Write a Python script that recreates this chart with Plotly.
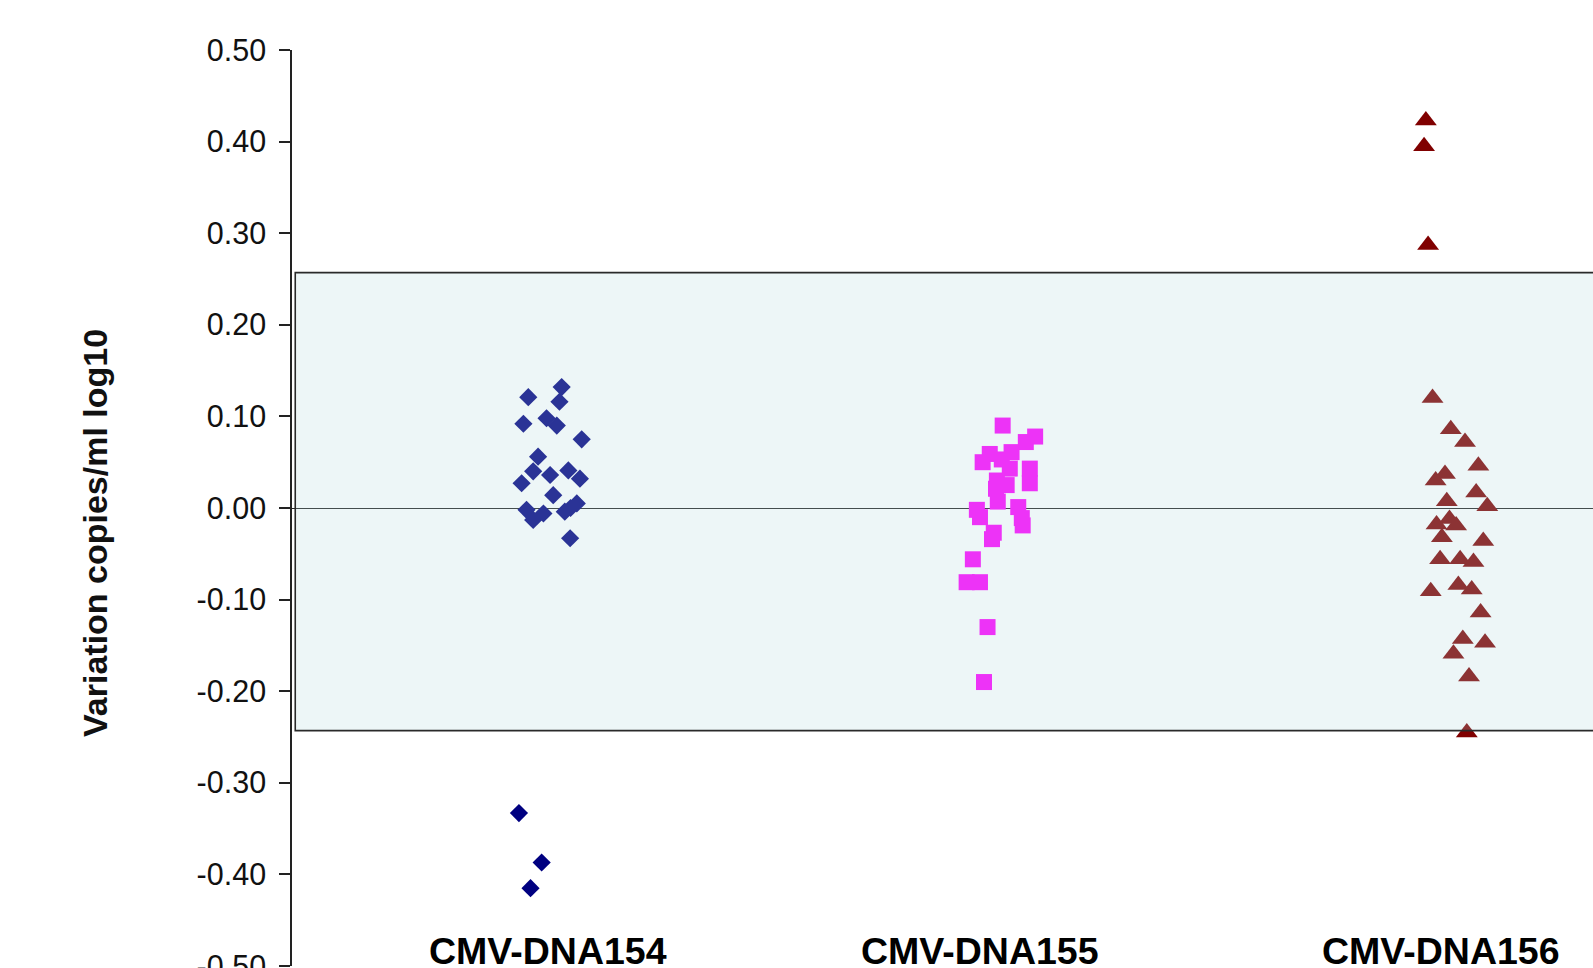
import plotly.graph_objects as go

# Categories (panel members) and their label positions on the x scale
categories = ["CMV-DNA154", "CMV-DNA155", "CMV-DNA156"]
category_index = [1, 2, 3]
label_x = [1.0, 1.97, 3.007]

# CMV-DNA154: horizontal jitter (offset from category) and variation (log10 copies/ml)
jitter154 = [-0.044, 0.031, 0.026, -0.055, -0.003, 0.020, 0.076, -0.022, -0.033, 0.005,
             0.046, 0.072, -0.059, 0.012, -0.048, -0.033, -0.010, 0.038, 0.065, 0.050,
             0.051, -0.065, -0.014, -0.039]
values154 = [0.121, 0.132, 0.116, 0.092, 0.098, 0.090, 0.075, 0.056, 0.040, 0.036,
             0.041, 0.032, 0.027, 0.014, -0.002, -0.013, -0.006, -0.004, 0.005, -0.033,
             0.000, -0.333, -0.387, -0.415]

# CMV-DNA155
jitter155 = [0.022, 0.095, 0.074, -0.007, -0.023, 0.042, 0.020, 0.083, 0.038, 0.083,
             0.009, 0.031, 0.007, 0.011, -0.036, -0.029, 0.057, 0.067, 0.065, 0.002,
             -0.002, -0.045, -0.059, -0.029, -0.012, -0.020]
values155 = [0.090, 0.078, 0.072, 0.059, 0.050, 0.061, 0.053, 0.043, 0.043, 0.027,
             0.030, 0.025, 0.021, 0.007, -0.002, -0.010, 0.001, -0.019, -0.011, -0.027,
             -0.034, -0.056, -0.081, -0.081, -0.130, -0.190]

# CMV-DNA156
jitter156 = [-0.027, -0.031, -0.022, -0.012, 0.029, 0.061, 0.091, 0.016, -0.005, 0.086,
             0.020, 0.111, 0.026, -0.003, 0.041, 0.009, 0.102, 0.005, 0.050, 0.080,
             -0.016, 0.046, 0.076, 0.096, 0.056, 0.106, 0.035, 0.070, 0.065]
values156 = [0.423, 0.395, 0.287, 0.120, 0.086, 0.072, 0.046, 0.037, 0.030, 0.017,
             0.0075, 0.002, -0.012, -0.018, -0.019, -0.032, -0.036, -0.056, -0.056, -0.059,
             -0.091, -0.084, -0.089, -0.114, -0.143, -0.147, -0.159, -0.184, -0.245]

# Acceptance band (log10 copies/ml)
band_low, band_high = -0.243, 0.257

# Y axis ticks
y_ticks = [0.50, 0.40, 0.30, 0.20, 0.10, 0.00, -0.10, -0.20, -0.30, -0.40, -0.50]
y_ticktext = [f"{v:.2f}" for v in y_ticks]

y_title = "Variation copies/ml log10"

series = [
    (jitter154, values154, "diamond", "#000080", 14),
    (jitter155, values155, "square", "#FF00FF", 16),
    (jitter156, values156, "triangle-up", "#800000", 19),
]

fig = go.Figure()
for (jit, vals, symbol, color, size), idx, name in zip(series, category_index, categories):
    fig.add_trace(go.Scatter(
        x=[idx + j for j in jit],
        y=vals,
        mode="markers",
        name=name,
        marker=dict(symbol=symbol, color=color, size=size, line=dict(width=0)),
        showlegend=False,
        cliponaxis=False,
    ))

# Translucent band drawn over the points, plus its outline
fig.add_shape(type="rect", xref="paper", yref="y",
              x0=0.0025, x1=1.02, y0=band_low, y1=band_high,
              fillcolor="rgb(180,218,222)", opacity=0.235,
              line=dict(width=0), layer="above")
fig.add_shape(type="rect", xref="paper", yref="y",
              x0=0.0025, x1=1.02, y0=band_low, y1=band_high,
              fillcolor="rgba(0,0,0,0)",
              line=dict(color="#2a2a2a", width=1.6), layer="above")

for name, lx in zip(categories, label_x):
    fig.add_annotation(x=lx, y=-0.484, xref="x", yref="y", text=f"<b>{name}</b>",
                       showarrow=False, xanchor="center", yanchor="middle", borderpad=0,
                       font=dict(family="Liberation Sans, Arial", size=37.5, color="#000000"))

# Rotated y-axis title
fig.add_annotation(x=-0.152, y=0.473, xref="paper", yref="paper",
                   text=f"<b>{y_title}</b>", textangle=-90, showarrow=False,
                   xanchor="center", yanchor="middle",
                   font=dict(family="Liberation Sans, Arial", size=34, color="#111111"))

fig.update_layout(
    width=1593, height=968,
    margin=dict(l=292, r=0, t=50, b=2, autoexpand=False),
    paper_bgcolor="white", plot_bgcolor="white",
    font=dict(family="Liberation Sans, Arial", color="#111111"),
    xaxis=dict(range=[0.425, 0.425 + 1301 / 445], visible=False, showgrid=False,
               automargin=False),
    yaxis=dict(
        range=[-0.5, 0.5],
        automargin=False,
        tickvals=y_ticks, ticktext=y_ticktext,
        ticks="outside", ticklen=11, tickwidth=1.5, tickcolor="#222222",
        showline=True, linecolor="#222222", linewidth=1.5,
        showgrid=False,
        zeroline=True, zerolinecolor="#222222", zerolinewidth=1.4,
        tickfont=dict(family="Liberation Sans, Arial", size=30.5, color="#111111"),
        ticklabelstandoff=7,
        ticklabeloverflow="allow",
    ),
)

fig.write_html("out.html")
